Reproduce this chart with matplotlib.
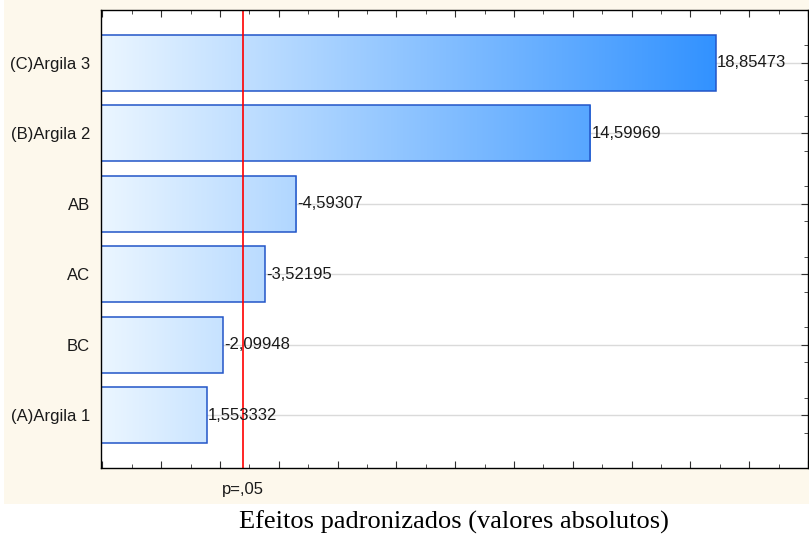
import numpy as np
import matplotlib
matplotlib.use("Agg")
import matplotlib.pyplot as plt
from matplotlib.colors import LinearSegmentedColormap
from matplotlib.patches import Rectangle
from matplotlib.ticker import MultipleLocator, FixedLocator

# data (top to bottom)
labels = ["(C)Argila 3", "(B)Argila 2", "AB", "AC", "BC", "(A)Argila 1"]
effects = [18.85473, 14.59969, -4.59307, -3.52195, -2.09948, 1.553332]
value_text = ["18,85473", "14,59969", "-4,59307", "-3,52195", "-2,09948", "1,553332"]
p_crit = 2.776
p_label = "p=,05"
xlab = "Efeitos padronizados (valores absolutos)"

xmin, xmax = -2.05, 22.0
ypos = np.arange(len(labels))
absval = np.abs(effects)

fig = plt.figure(figsize=(8.09, 5.35), dpi=100)
fig.patch.set_facecolor("white")
# cream panel behind the chart
fig.patches.append(Rectangle((4/809, 31/535), 1 - 4/809, 1 - 31/535,
                             transform=fig.transFigure, facecolor="#fdf8ec",
                             edgecolor="none", zorder=-10))

ax = fig.add_axes([101/809, 1 - 468/535, 707/809, 458/535])
ax.set_facecolor("white")
ax.set_zorder(1)

cmap = LinearSegmentedColormap.from_list("blues", ["#ebf6ff", "#1683ff"])
grad = np.linspace(0, 1, 256).reshape(1, -1)

for y in ypos:
    ax.axhline(y, color="#dadada", lw=1, zorder=1)

bars = ax.barh(ypos, absval - xmin, left=xmin, height=0.8,
               color="none", edgecolor="#2255c8", lw=1.1, zorder=3)
for b in bars:
    im = ax.imshow(grad, extent=[xmin, xmax, -1, len(labels)], aspect="auto",
                   cmap=cmap, zorder=2)
    im.set_clip_path(b)

fs = 12
for y, v, t in zip(ypos, absval, value_text):
    ax.text(v + 0.04, y, t, va="center", ha="left", fontsize=fs,
            family="Liberation Sans", color="#1a1a1a", zorder=5)

ax.axvline(p_crit, color="#ff0000", lw=1.2, zorder=4)
ax.text(p_crit, -0.03, p_label, transform=ax.get_xaxis_transform(),
        ha="center", va="top", fontsize=fs, family="Liberation Sans",
        color="#1a1a1a")

ax.set_xlim(xmin, xmax)
ax.set_ylim(len(labels) - 0.25, -0.75)
ax.xaxis.set_major_locator(MultipleLocator(2))
ax.xaxis.set_minor_locator(MultipleLocator(1))
ax.set_yticks(ypos)
ax.set_yticklabels(labels, family="Liberation Sans", fontsize=fs, color="#1a1a1a")
ax.yaxis.set_minor_locator(FixedLocator(np.concatenate([ypos - 0.25, ypos + 0.25])))
ax.tick_params(which="both", direction="in", top=True, right=True,
               labelbottom=False, color="#303030")
ax.tick_params(which="major", length=5)
ax.tick_params(which="minor", length=3)
ax.tick_params(axis="y", which="major", pad=8)
for s in ax.spines.values():
    s.set_color("black")
    s.set_linewidth(1)
    s.set_zorder(6)

fig.text(454/809, 1 - 522/535, xlab, ha="center", va="center",
         fontsize=19, family="Liberation Serif", color="black")

fig.savefig("out.png", dpi=100)
